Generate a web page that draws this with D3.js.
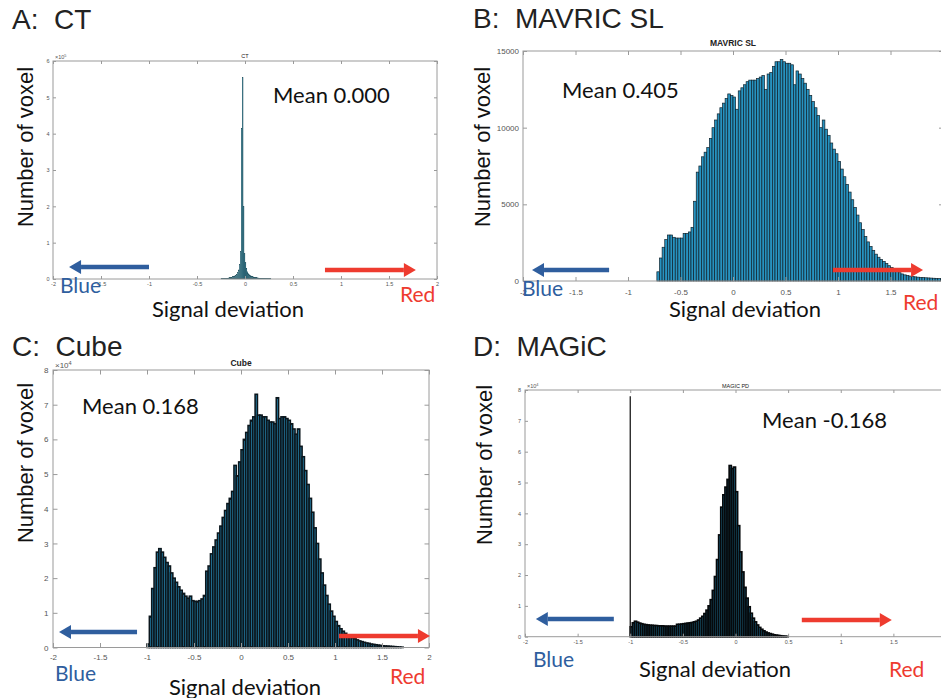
<!DOCTYPE html>
<html>
<head>
<meta charset="utf-8">
<script src="https://cdn.jsdelivr.net/npm/d3@7"></script>
<style>
  body { margin: 0; background: #fff; }
  svg { display: block; }
</style>
</head>
<body>
<svg id="fig" width="941" height="698"></svg>
<script>
// signal deviation axis, shared by all four panels
const xTicks = [-2, -1.5, -1, -0.5, 0, 0.5, 1, 1.5, 2];

// A: CT  (counts x 1e5, bins 0.01 wide)
const ctBinStart = -0.25;
const ctBinWidth = 0.01;
const ctCounts = [
  0.005, 0.008, 0.01, 0.012, 0.015, 0.018, 0.02, 0.025, 0.03, 0.035,
  0.04, 0.05, 0.06, 0.07, 0.085, 0.1, 0.13, 0.17, 0.25, 0.4,
  0.75, 4.15, 5.55, 2.0, 0.7, 0.45, 0.3, 0.2, 0.15, 0.12,
  0.1, 0.085, 0.07, 0.06, 0.05, 0.045, 0.04, 0.035, 0.03, 0.027,
  0.024, 0.021, 0.018, 0.016, 0.014, 0.012, 0.01, 0.008, 0.007, 0.006,
  0.005, 0.004
];
const ctYTicks = [0, 1, 2, 3, 4, 5, 6];

// B: MAVRIC SL  (counts, bins 0.025 wide)
const mavricBinStart = -0.725;
const mavricBinWidth = 0.025;
const mavricCounts = [
  600, 1500, 2200, 2700, 3000, 3000, 2850, 2800, 2800, 2800,
  3100, 3100, 3200, 3500, 5200, 7100, 7500, 8100, 8400, 8700,
  9300, 10000, 10500, 10900, 11300, 11600, 11900, 12200, 12100, 12000,
  11200, 12400, 12600, 12800, 13000, 13100, 13100, 13100, 13200, 13300,
  13400, 12500, 13500, 13600, 14000, 14300, 14300, 14450, 14300, 14200,
  14200, 14100, 12800, 13700, 13500, 13200, 12900, 12500, 12100, 11700,
  11300, 10800, 10000, 10500, 9900, 9500, 9000, 8600, 8300, 7800,
  7300, 6800, 6300, 5800, 5300, 4800, 4300, 3800, 3350, 2900,
  2550, 2250, 2000, 1750, 1550, 1400, 1280, 1150, 1000, 880,
  760, 640, 540, 460, 400, 360, 320, 290, 270, 250,
  230, 220, 210, 200, 190, 180, 170, 160, 150
];
const mavricYTicks = [0, 5000, 10000, 15000];

// C: Cube  (counts x 1e4, bins 0.025 wide)
const cubeBinStart = -1.0;
const cubeBinWidth = 0.025;
const cubeCounts = [
  0.1, 0.9, 1.7, 2.3, 2.75, 2.85, 2.75, 2.6, 2.45, 2.35,
  2.15, 2.0, 1.88, 1.75, 1.65, 1.56, 1.48, 1.42, 1.48, 1.35,
  1.33, 1.33, 1.35, 1.4, 1.5, 2.2, 2.35, 2.7, 2.9, 3.1,
  3.3, 3.5, 3.75, 3.95, 4.15, 4.3, 4.5, 5.25, 4.95, 5.35,
  5.7, 6.0, 6.2, 6.4, 6.55, 6.65, 7.3, 6.7, 6.7, 6.65,
  6.65, 6.55, 6.5, 6.5, 6.45, 7.2, 6.6, 6.65, 6.65, 6.6,
  6.55, 6.45, 6.3, 6.15, 6.3, 5.8, 5.5, 5.1, 4.7, 4.3,
  3.9, 3.45, 3.0, 2.55, 2.15, 1.8, 1.5, 1.25, 1.05, 0.9,
  0.75, 0.63, 0.54, 0.47, 0.41, 0.36, 0.32, 0.28, 0.25, 0.22,
  0.19, 0.17, 0.15, 0.13, 0.12, 0.1, 0.09, 0.08, 0.07, 0.06,
  0.05, 0.045, 0.04, 0.035, 0.03, 0.025, 0.02, 0.015, 0.01
];
const cubeYTicks = [0, 1, 2, 3, 4, 5, 6, 7, 8];

// D: MAGiC  (counts x 1e4, bins 0.02 wide; clipped voxels pile up at -1)
const magicBinStart = -1.0;
const magicBinWidth = 0.02;
const magicClipValue = -1.0;
const magicClipCount = 7.8;
const magicCounts = [
  0.32, 0.45, 0.5, 0.47, 0.44, 0.42, 0.4, 0.39, 0.38, 0.37,
  0.37, 0.36, 0.36, 0.35, 0.35, 0.35, 0.34, 0.34, 0.34, 0.34,
  0.34, 0.34, 0.4, 0.4, 0.41, 0.42, 0.43, 0.44, 0.45, 0.46,
  0.48, 0.5, 0.54, 0.6, 0.66, 0.75, 0.86, 1.0, 1.2, 1.5,
  1.95, 2.5, 3.3, 4.2, 4.6, 4.85, 5.1, 5.55, 5.45, 5.5,
  4.7, 3.6, 2.75, 2.1, 1.6, 1.25, 0.97, 0.76, 0.6, 0.48,
  0.38, 0.3, 0.24, 0.19, 0.15, 0.12, 0.1, 0.08, 0.06, 0.05,
  0.04, 0.03, 0.02, 0.015, 0.01
];
const magicYTicks = [0, 1, 2, 3, 4, 5, 6, 7, 8];

const meanLabels = ['Mean 0.000', 'Mean 0.405', 'Mean 0.168', 'Mean -0.168'];

const panels = [
  {
    heading: 'A:  CT', headingAt: [12, 29],
    title: 'CT', titleSize: 5.5, titleWeight: 'normal', titleY: 58,
    counts: ctCounts, binStart: ctBinStart, binWidth: ctBinWidth,
    yDomain: [0, 6], yTicks: ctYTicks, exponent: '5',
    xRange: [53, 437], yRange: [279, 61],
    tickLen: 3, tickFont: 5.5, xPad: 3, yPad: 3.5,
    bar: { fill: '#2e6d7f', stroke: '#1d4b58', width: 0.2 },
    mean: meanLabels[0], meanAt: [273, 103],
    arrows: { blue: [-1.0, -1.833, 0.33], red: [0.833, 1.78, 0.25] },
    ylabelAt: [33, 147], xlabelAt: [228, 317],
    blueAt: [60, 293], redAt: [400, 302]
  },
  {
    heading: 'B:  MAVRIC SL', headingAt: [473, 28],
    title: 'MAVRIC SL', titleSize: 8.5, titleWeight: 'bold', titleY: 46,
    counts: mavricCounts, binStart: mavricBinStart, binWidth: mavricBinWidth,
    yDomain: [0, 15000], yTicks: mavricYTicks, exponent: null,
    xRange: [523, 943], yRange: [281, 51],
    tickLen: 4, tickFont: 8, xPad: 8, yPad: 4,
    bar: { fill: '#2792bf', stroke: '#10222c', width: 0.7 },
    mean: meanLabels[1], meanAt: [562, 98],
    arrows: { blue: [-1.18, -1.914, 720], red: [0.952, 1.81, 720] },
    ylabelAt: [490, 147], xlabelAt: [745, 317],
    blueAt: [522, 296], redAt: [903, 310]
  },
  {
    heading: 'C:  Cube', headingAt: [12, 356],
    title: 'Cube', titleSize: 8.5, titleWeight: 'bold', titleY: 366,
    counts: cubeCounts, binStart: cubeBinStart, binWidth: cubeBinWidth,
    yDomain: [0, 8], yTicks: cubeYTicks, exponent: '4',
    xRange: [53, 429], yRange: [647.5, 370],
    tickLen: 4.5, tickFont: 8, xPad: 6.5, yPad: 4.5,
    bar: { fill: '#2682ab', stroke: '#0b161c', width: 1.55 },
    mean: meanLabels[2], meanAt: [82, 414],
    arrows: { blue: [-1.106, -1.936, 0.45], red: [1.043, 2.01, 0.33] },
    ylabelAt: [33, 463], xlabelAt: [245, 695],
    blueAt: [55, 681], redAt: [390, 684]
  },
  {
    heading: 'D:  MAGiC', headingAt: [473, 356],
    title: 'MAGIC PD', titleSize: 5.5, titleWeight: 'normal', titleY: 388,
    counts: magicCounts, binStart: magicBinStart, binWidth: magicBinWidth,
    clip: [magicClipValue, magicClipCount],
    yDomain: [0, 8], yTicks: magicYTicks, exponent: '4',
    xRange: [525, 946], yRange: [636.7, 390],
    tickLen: 3, tickFont: 5.5, xPad: 3, yPad: 4,
    bar: { fill: '#2580a8', stroke: '#06090b', width: 1.7 },
    mean: meanLabels[3], meanAt: [762, 428],
    arrows: { blue: [-1.156, -1.897, 0.575], red: [0.63, 1.485, 0.54] },
    ylabelAt: [492, 465], xlabelAt: [715, 677],
    blueAt: [533, 667], redAt: [889, 677]
  }
];

const svg = d3.select('#fig');
const sansArial = "'Liberation Sans', Arial, sans-serif";
const sansCalibri = "Lato, 'Open Sans', sans-serif";
const frameColor = '#9a9a9a';
const blueColor = '#2f5e9e';
const redColor = '#ee3b2f';

function drawArrow(g, x, y, spec, color) {
  const [from, to, yv] = spec;
  const x0 = x(from), x1 = x(to), yy = y(yv);
  const dir = Math.sign(x1 - x0);
  const headLen = 12, headHalf = 7;
  g.append('line')
    .attr('x1', x0).attr('y1', yy)
    .attr('x2', x1 - dir * headLen).attr('y2', yy)
    .attr('stroke', color).attr('stroke-width', 4.5);
  g.append('path')
    .attr('d', `M${x1},${yy} L${x1 - dir * headLen},${yy - headHalf} L${x1 - dir * headLen},${yy + headHalf} Z`)
    .attr('fill', color);
}

function styleAxis(sel, p) {
  sel.select('.domain').remove();
  sel.selectAll('line').attr('stroke', frameColor);
  sel.selectAll('text')
    .attr('fill', '#555')
    .style('font-family', sansArial)
    .style('font-size', p.tickFont + 'px');
}

function drawPanel(p) {
  const x = d3.scaleLinear().domain([-2, 2]).range(p.xRange);
  const y = d3.scaleLinear().domain(p.yDomain).range(p.yRange);
  const g = svg.append('g');
  const fmt = d => String(d);

  // histogram bars
  g.append('g')
    .selectAll('rect')
    .data(p.counts)
    .join('rect')
    .attr('x', (d, i) => x(p.binStart + i * p.binWidth))
    .attr('width', x(p.binWidth) - x(0))
    .attr('y', d => y(d))
    .attr('height', d => y(0) - y(d))
    .attr('fill', p.bar.fill)
    .attr('stroke', p.bar.stroke)
    .attr('stroke-width', p.bar.width);

  // clipped values: one thin bar at the limit
  if (p.clip) {
    g.append('line')
      .attr('x1', x(p.clip[0])).attr('x2', x(p.clip[0]))
      .attr('y1', y(0)).attr('y2', y(p.clip[1]))
      .attr('stroke', '#1a1a1a').attr('stroke-width', 1.3);
  }

  // box + inward ticks, matlab style
  const [x0, x1] = p.xRange, [yb, yt] = p.yRange;
  g.append('rect')
    .attr('x', x0).attr('y', yt)
    .attr('width', x1 - x0).attr('height', yb - yt)
    .attr('fill', 'none').attr('stroke', frameColor).attr('stroke-width', 1);

  g.append('g').attr('transform', `translate(0,${yb})`)
    .call(d3.axisBottom(x).tickValues(xTicks).tickFormat(fmt)
      .tickSizeInner(-p.tickLen).tickSizeOuter(0).tickPadding(p.xPad))
    .call(s => styleAxis(s, p));
  g.append('g').attr('transform', `translate(0,${yt})`)
    .call(d3.axisTop(x).tickValues(xTicks).tickFormat('')
      .tickSizeInner(-p.tickLen).tickSizeOuter(0))
    .call(s => styleAxis(s, p));
  g.append('g').attr('transform', `translate(${x0},0)`)
    .call(d3.axisLeft(y).tickValues(p.yTicks).tickFormat(fmt)
      .tickSizeInner(-p.tickLen).tickSizeOuter(0).tickPadding(p.yPad))
    .call(s => styleAxis(s, p));
  g.append('g').attr('transform', `translate(${x1},0)`)
    .call(d3.axisRight(y).tickValues(p.yTicks).tickFormat('')
      .tickSizeInner(-p.tickLen).tickSizeOuter(0))
    .call(s => styleAxis(s, p));

  // small matlab title
  g.append('text')
    .attr('x', x(0)).attr('y', p.titleY)
    .attr('text-anchor', 'middle')
    .style('font-family', sansArial)
    .style('font-size', p.titleSize + 'px')
    .style('font-weight', p.titleWeight)
    .attr('fill', '#222')
    .text(p.title);

  if (p.exponent) {
    const ex = g.append('text')
      .attr('x', x0 + 2).attr('y', yt - 2)
      .style('font-family', sansArial)
      .style('font-size', p.tickFont + 'px')
      .attr('fill', '#555')
      .text('\u00d710');
    ex.append('tspan')
      .attr('dy', -p.tickFont * 0.4)
      .style('font-size', (p.tickFont * 0.7) + 'px')
      .text(p.exponent);
  }

  drawArrow(g, x, y, p.arrows.blue, blueColor);
  drawArrow(g, x, y, p.arrows.red, redColor);

  // panel heading
  svg.append('text')
    .attr('x', p.headingAt[0]).attr('y', p.headingAt[1])
    .style('font-family', sansArial)
    .style('font-size', '28px')
    .style('white-space', 'pre')
    .attr('fill', '#222')
    .text(p.heading);

  svg.append('text')
    .attr('transform', `translate(${p.ylabelAt[0]},${p.ylabelAt[1]}) rotate(-90)`)
    .attr('text-anchor', 'middle')
    .style('font-family', sansArial)
    .style('font-size', '22px')
    .attr('fill', '#111')
    .text('Number of voxel');

  svg.append('text')
    .attr('x', p.xlabelAt[0]).attr('y', p.xlabelAt[1])
    .attr('text-anchor', 'middle')
    .style('font-family', sansCalibri)
    .style('font-size', '22px')
    .attr('fill', '#111')
    .text('Signal deviation');

  svg.append('text')
    .attr('x', p.meanAt[0]).attr('y', p.meanAt[1])
    .style('font-family', sansCalibri)
    .style('font-size', '22px')
    .attr('fill', '#111')
    .text(p.mean);

  svg.append('text')
    .attr('x', p.blueAt[0]).attr('y', p.blueAt[1])
    .style('font-family', sansCalibri)
    .style('font-size', '21px')
    .attr('fill', blueColor)
    .text('Blue');

  svg.append('text')
    .attr('x', p.redAt[0]).attr('y', p.redAt[1])
    .style('font-family', sansCalibri)
    .style('font-size', '21px')
    .attr('fill', redColor)
    .text('Red');
}

panels.forEach(drawPanel);
</script>
</body>
</html>
